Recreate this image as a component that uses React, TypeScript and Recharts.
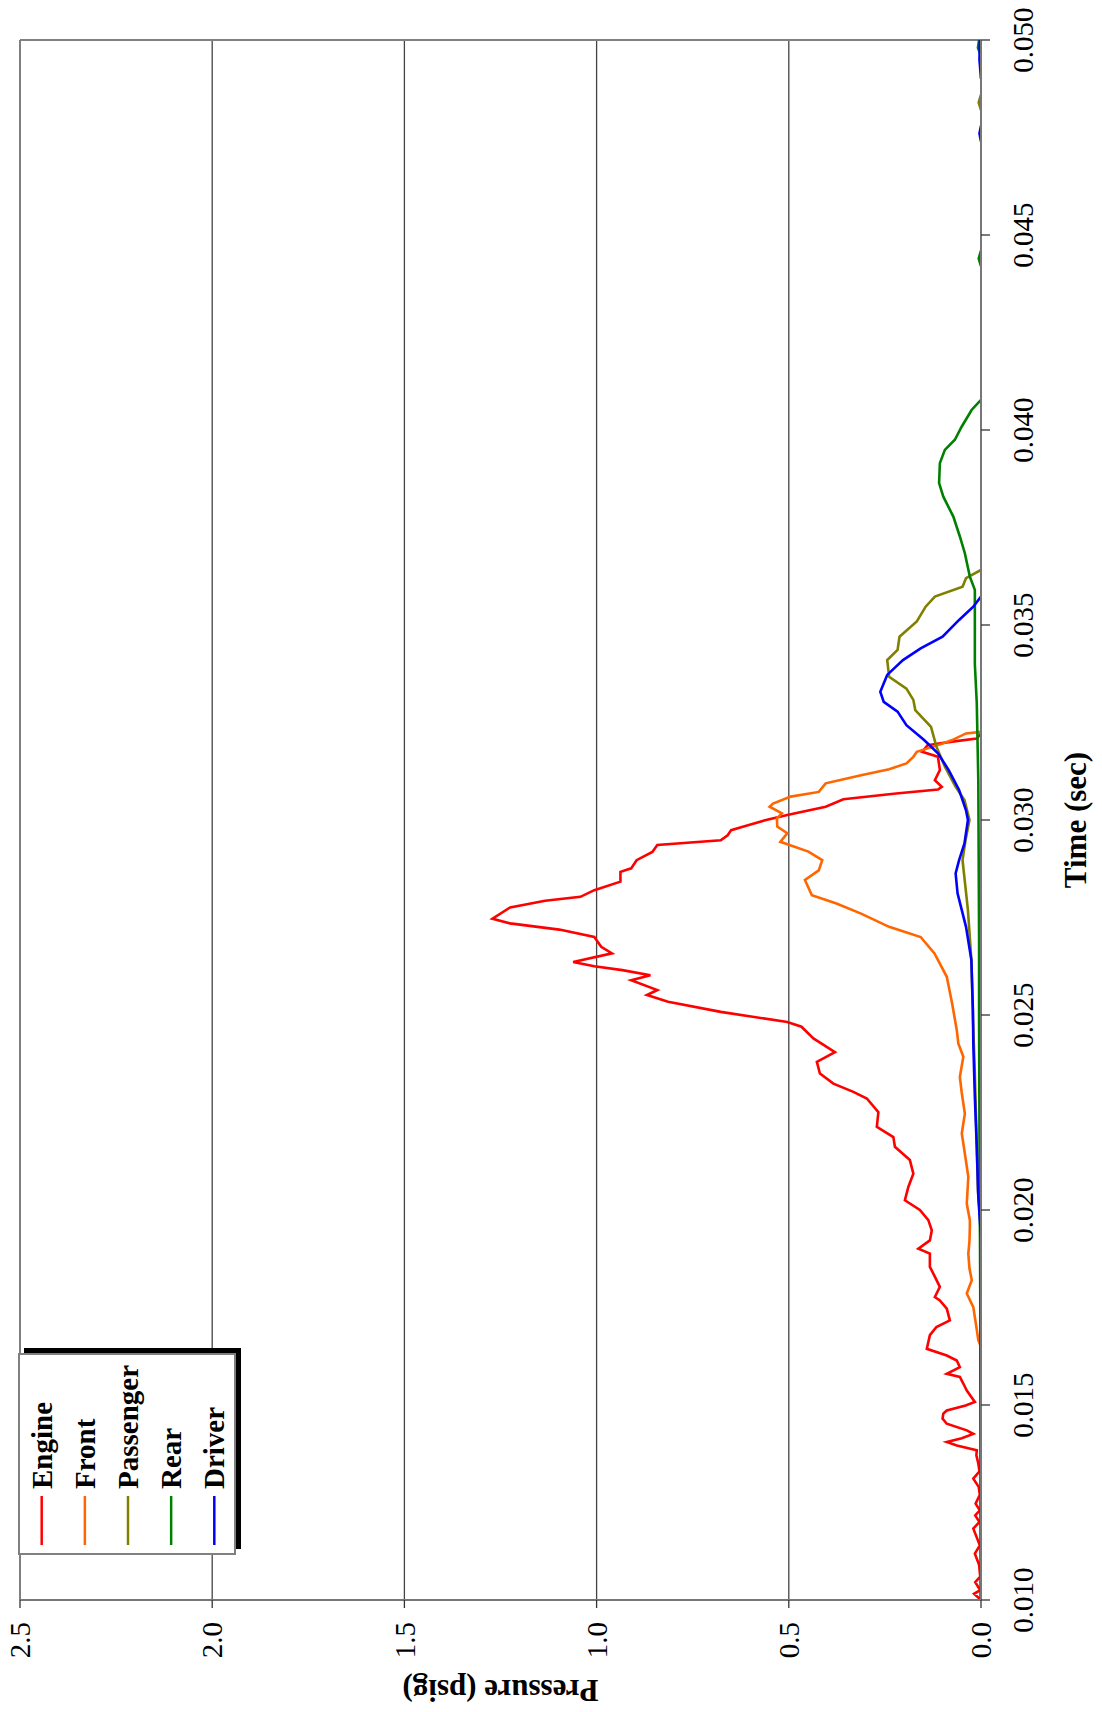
import React from 'react';
import { LineChart, Line, XAxis, YAxis, CartesianGrid, ReferenceLine, Legend } from 'recharts';

const FONT = "'Liberation Serif', 'Times New Roman', Times, serif";

const timeTicks = [0.01, 0.015, 0.02, 0.025, 0.03, 0.035, 0.04, 0.045, 0.05];
const pressureTicks = [0, 0.5, 1.0, 1.5, 2.0, 2.5];

const seriesNames = ['Engine', 'Front', 'Passenger', 'Rear', 'Driver'];
const seriesColors = ['#FF0000', '#FF6600', '#808000', '#008000', '#0000FF'];

const engineT = [
  0.01, 0.01016, 0.01025, 0.01046, 0.0106, 0.0109, 0.01119, 0.0114, 0.01183, 0.012, 0.01217, 0.0123,
  0.01247, 0.0127, 0.0129, 0.01311, 0.0133, 0.0135, 0.01371, 0.01384, 0.01396, 0.01405, 0.01415,
  0.01426, 0.01435, 0.01452, 0.01465, 0.01478, 0.01486, 0.01499, 0.01508, 0.01537, 0.01555, 0.01572,
  0.0158, 0.01597, 0.01614, 0.01627, 0.01644, 0.01679, 0.017, 0.01717, 0.01747, 0.01768, 0.01777,
  0.01803, 0.01837, 0.01854, 0.01888, 0.01901, 0.01922, 0.01948, 0.01974, 0.02, 0.02025, 0.02059,
  0.02093, 0.02128, 0.02162, 0.02187, 0.02213, 0.02251, 0.02286, 0.02303, 0.02324, 0.0235, 0.0238,
  0.02405, 0.0244, 0.0247, 0.02482, 0.02508, 0.02534, 0.02551, 0.02564, 0.02589, 0.02602, 0.02615,
  0.02625, 0.02636, 0.02658, 0.02675, 0.027, 0.02719, 0.02735, 0.02747, 0.02776, 0.02793, 0.02803,
  0.0282, 0.02842, 0.02867, 0.02876, 0.02897, 0.02918, 0.02936, 0.02948, 0.02961, 0.02974, 0.02987,
  0.03, 0.03013, 0.03034, 0.03053, 0.03068, 0.03078, 0.03085, 0.03102, 0.03128, 0.03162, 0.03175,
  0.03192, 0.03201, 0.03209, 0.03222,
];
const engineP = [
  0.0, 0.018, 0.002, 0.015, 0.002, 0.005, 0.016, 0.003, 0.02, 0.004, 0.015, 0.003,
  0.014, 0.003, 0.006, 0.02, 0.004, 0.007, 0.012, 0.011, 0.063, 0.089, 0.05,
  0.02, 0.037, 0.089, 0.1, 0.098, 0.089, 0.04, 0.016, 0.037, 0.046, 0.055,
  0.089, 0.055, 0.063, 0.089, 0.141, 0.133, 0.116, 0.081, 0.089, 0.107, 0.12,
  0.107, 0.124, 0.133, 0.133, 0.163, 0.133, 0.128, 0.137, 0.159, 0.198, 0.189,
  0.176, 0.185, 0.224, 0.228, 0.271, 0.267, 0.297, 0.332, 0.384, 0.419, 0.427,
  0.38, 0.436, 0.467, 0.504, 0.677, 0.814, 0.869, 0.842, 0.91, 0.86, 0.933,
  1.006, 1.061, 0.96, 0.988, 1.006, 1.097, 1.225, 1.271, 1.225, 1.134, 1.042,
  1.006, 0.938, 0.938, 0.91, 0.896, 0.855, 0.842, 0.677, 0.659, 0.65, 0.604,
  0.559, 0.504, 0.404, 0.358, 0.221, 0.112, 0.102, 0.12, 0.107, 0.112, 0.153,
  0.139, 0.075, 0.011, 0.0,
];

const frontT = [
  0.01, 0.01649, 0.01666, 0.017, 0.01751, 0.01786, 0.0182, 0.0185, 0.01888, 0.0192, 0.01956, 0.01974,
  0.02016, 0.0205, 0.02085, 0.02145, 0.02196, 0.02247, 0.023, 0.02341, 0.02393, 0.02427, 0.02461,
  0.02529, 0.02598, 0.02658, 0.027, 0.02726, 0.0276, 0.02786, 0.02807, 0.02846, 0.02871, 0.02897,
  0.02919, 0.02944, 0.02966, 0.02983, 0.03004, 0.03017, 0.03034, 0.03042, 0.0306, 0.03072, 0.03094,
  0.03115, 0.0313, 0.03145, 0.03162, 0.03175, 0.03192, 0.03205, 0.03222, 0.03226,
];
const frontP = [
  0.0, 0.0, 0.007, 0.012, 0.02, 0.037, 0.024, 0.03, 0.033, 0.03, 0.029, 0.029,
  0.037, 0.035, 0.033, 0.042, 0.05, 0.042, 0.05, 0.055, 0.046, 0.059, 0.063,
  0.075, 0.089, 0.121, 0.157, 0.239, 0.312, 0.376, 0.44, 0.458, 0.422, 0.413,
  0.449, 0.522, 0.504, 0.53, 0.531, 0.518, 0.55, 0.541, 0.495, 0.422, 0.404,
  0.312, 0.239, 0.194, 0.176, 0.167, 0.112, 0.075, 0.039, 0.0,
];

const passengerT = [
  0.01, 0.0195, 0.0205, 0.022, 0.0235, 0.02495, 0.02641, 0.02769, 0.02897, 0.0295, 0.03, 0.03051,
  0.03085, 0.03137, 0.03188, 0.03239, 0.03282, 0.03308, 0.03337, 0.03367, 0.0341, 0.03436, 0.0347,
  0.03509, 0.03547, 0.03573, 0.03598, 0.0362, 0.03641, 0.042, 0.0482, 0.0484, 0.0486, 0.049, 0.0499, 0.05,
];
const passengerP = [
  0.0, 0.0, 0.008, 0.012, 0.016, 0.021, 0.025, 0.034, 0.048, 0.04, 0.03, 0.043,
  0.066, 0.094, 0.116, 0.13, 0.171, 0.176, 0.194, 0.239, 0.244, 0.217, 0.212,
  0.167, 0.144, 0.12, 0.048, 0.039, 0.0, null, 0.0, 0.006, 0.0, null, 0.0, 0.004,
];

const rearT = [
  0.01, 0.018, 0.02, 0.022, 0.025, 0.027, 0.029, 0.031, 0.033, 0.034, 0.035, 0.0359,
  0.03624, 0.03684, 0.03727, 0.03778, 0.03829, 0.03864, 0.03915, 0.03949, 0.03975, 0.04009,
  0.04052, 0.04077, 0.042, 0.0442, 0.0444, 0.0446, 0.047, 0.0496, 0.0498, 0.05,
];
const rearP = [
  0.0, 0.002, 0.003, 0.004, 0.005, 0.005, 0.006, 0.007, 0.011, 0.016, 0.016, 0.016,
  0.029, 0.042, 0.055, 0.072, 0.098, 0.109, 0.107, 0.094, 0.068, 0.05,
  0.024, 0.0, null, 0.0, 0.006, 0.0, null, 0.0, 0.008, 0.005,
];

const driverT = [
  0.01, 0.0193, 0.02034, 0.02162, 0.0229, 0.02427, 0.02512, 0.02641, 0.02726, 0.02812, 0.02863,
  0.02897, 0.0294, 0.03, 0.03025, 0.03077, 0.03128, 0.03171, 0.03205, 0.03243, 0.03278, 0.03303,
  0.03329, 0.03372, 0.0341, 0.0344, 0.0347, 0.03513, 0.03547, 0.03573, 0.04, 0.0474, 0.0476, 0.0478,
  0.0485, 0.049, 0.0495, 0.05,
];
const driverP = [
  0.0, 0.0, 0.007, 0.011, 0.016, 0.02, 0.021, 0.025, 0.039, 0.061, 0.066,
  0.057, 0.043, 0.034, 0.039, 0.057, 0.084, 0.112, 0.148, 0.194, 0.217, 0.253,
  0.262, 0.244, 0.203, 0.157, 0.1, 0.057, 0.02, 0.0, null, 0.0, 0.004, 0.0,
  null, 0.0, 0.004, 0.003,
];

const toPoints = (ts: number[], ps: (number | null)[]) => ts.map((t, i) => ({ t, p: ps[i] }));

const seriesData = [
  toPoints(engineT, engineP),
  toPoints(frontT, frontP),
  toPoints(passengerT, passengerP),
  toPoints(rearT, rearP),
  toPoints(driverT, driverP),
];

const LegendBox = (props: any) => {
  const items = [...(props.payload || [])].sort(
    (a: any, b: any) => seriesNames.indexOf(String(a.value)) - seriesNames.indexOf(String(b.value)),
  );
  return (
    <svg width={212} height={226} style={{ display: 'block', overflow: 'visible' }}>
      <rect x={6} y={6} width={201} height={217} fill="#000" />
      <rect x={1} y={1} width={200} height={216} fill="#fff" stroke="#808080" strokeWidth={2} />
      {items.map((it: any, i: number) => {
        const cy = 23.7 + i * 43.15;
        return (
          <g key={String(it.value)}>
            <line x1={10} x2={59} y1={cy} y2={cy} stroke={it.color} strokeWidth={2.5} />
            <text x={66} y={cy + 10} fontFamily={FONT} fontWeight="bold" fontSize={29} fill="#000">
              {it.value}
            </text>
          </g>
        );
      })}
    </svg>
  );
};

const tickStyle = { fontFamily: FONT, fontSize: 29, fill: '#000' };

export default function App() {
  return (
    <div
      style={{
        position: 'absolute',
        left: 0,
        top: 0,
        width: 1712,
        height: 1102,
        transformOrigin: '0 0',
        transform: 'translate(0px, 1712px) rotate(-90deg)',
        background: '#fff',
      }}
    >
      <LineChart width={1712} height={1102} margin={{ top: 20, right: 40, bottom: 0, left: 0 }}>
        <CartesianGrid horizontal={true} vertical={false} stroke="#444" strokeWidth={1.3} />
        <XAxis
          type="number"
          dataKey="t"
          domain={[0.01, 0.05]}
          ticks={timeTicks}
          allowDataOverflow
          tickFormatter={(v: number) => v.toFixed(3)}
          height={121}
          tickSize={9}
          tickMargin={22}
          tick={tickStyle}
          axisLine={{ stroke: '#777', strokeWidth: 2 }}
          tickLine={{ stroke: '#333', strokeWidth: 1.3 }}
          label={{
            value: 'Time (sec)',
            position: 'insideBottom',
            offset: 16,
            style: { fontFamily: FONT, fontSize: 31, fontWeight: 'bold', fill: '#000' },
          }}
        />
        <YAxis
          type="number"
          domain={[0, 2.5]}
          ticks={pressureTicks}
          allowDataOverflow
          tickFormatter={(v: number) => v.toFixed(1)}
          width={112}
          tickSize={8}
          tickMargin={14}
          tick={tickStyle}
          axisLine={{ stroke: '#777', strokeWidth: 2 }}
          tickLine={{ stroke: '#333', strokeWidth: 1.3 }}
          label={{
            value: 'Pressure (psig)',
            angle: -90,
            position: 'insideLeft',
            offset: 21,
            style: { fontFamily: FONT, fontSize: 31, fontWeight: 'bold', fill: '#000', textAnchor: 'middle' },
          }}
        />
        <ReferenceLine x={0.05} stroke="#808080" strokeWidth={2} />
        <ReferenceLine y={2.5} stroke="#808080" strokeWidth={2} />
        {seriesNames.map((name, i) => (
          <Line
            key={name}
            data={seriesData[i]}
            dataKey="p"
            name={name}
            type="linear"
            stroke={seriesColors[i]}
            strokeWidth={2.6}
            dot={false}
            activeDot={false}
            connectNulls={false}
            isAnimationActive={false}
          />
        ))}
        <Legend
          layout="vertical"
          align="center"
          verticalAlign="middle"
          itemSorter={null as any}
          content={LegendBox}
          wrapperStyle={{ left: 157, top: 18, width: 212, height: 226, right: 'auto', bottom: 'auto' }}
        />
      </LineChart>
    </div>
  );
}
